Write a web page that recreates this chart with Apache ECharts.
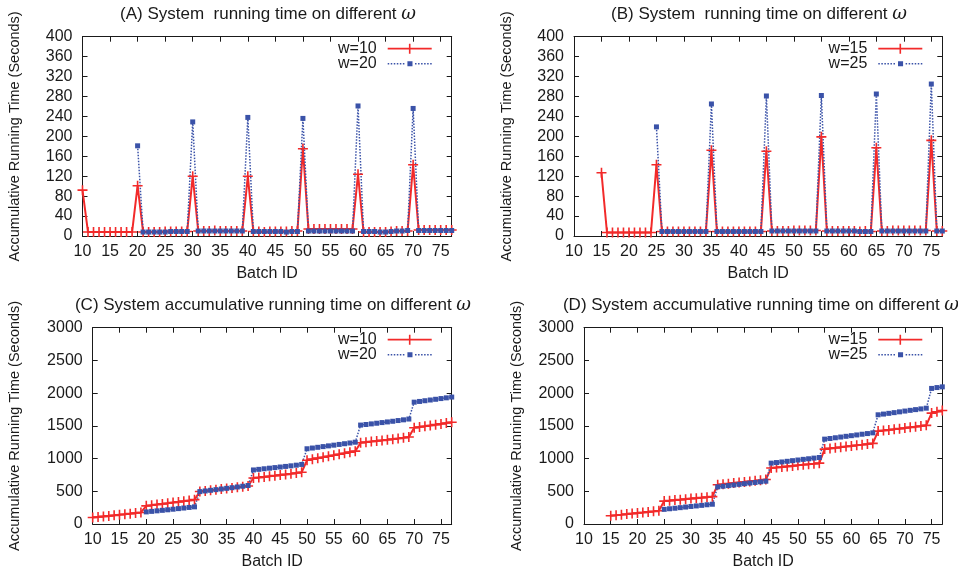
<!DOCTYPE html>
<html>
<head>
<meta charset="utf-8">
<script src="https://cdn.jsdelivr.net/npm/echarts@6/dist/echarts.min.js"></script>
<style>
  html, body { margin: 0; padding: 0; background: #ffffff; }
  #chart { width: 958px; height: 571px; }
</style>
</head>
<body>
<div id="chart"></div>
<script>
// Per-batch running time (seconds), panel A: w=10 starts at batch 10, w=20 at batch 20
const timeW10Start = 10;
const timeW10 = [92, 8, 8, 8, 8, 8, 8, 8, 8, 8,
  101, 8, 8, 8, 8, 9, 9, 9, 9, 9,
  120, 10, 10, 10, 11, 10, 10, 10, 10, 10,
  120, 9, 9, 8, 9, 9, 9, 9, 10, 10,
  175, 14, 14, 14, 14, 14, 14, 14, 14, 14,
  124, 8, 8, 8, 8, 8, 9, 10, 10, 10,
  143, 12, 12, 12, 12, 12, 12, 12];
const timeW20Start = 20;
const timeW20 = [181, 8, 8, 8, 8, 8, 9, 9, 9, 9,
  229, 10, 10, 10, 10, 10, 10, 10, 10, 10,
  238, 9, 9, 9, 9, 9, 9, 8, 9, 9,
  236, 10, 10, 10, 10, 10, 10, 10, 10, 10,
  261, 9, 9, 9, 8, 8, 9, 10, 10, 11,
  256, 11, 11, 11, 11, 11, 11, 11];

// Panel B: w=15 starts at batch 15, w=25 at batch 25
const timeW15Start = 15;
const timeW15 = [127, 7, 7, 7, 7, 7, 7, 7, 7, 7,
  143, 9, 9, 9, 9, 9, 9, 9, 9, 9,
  172, 9, 9, 9, 9, 9, 9, 9, 9, 9,
  170, 10, 10, 10, 10, 11, 11, 11, 11, 11,
  199, 10, 10, 10, 10, 10, 10, 9, 10, 9,
  177, 10, 10, 11, 11, 11, 11, 11, 11, 11,
  192, 10, 10];
const timeW25Start = 25;
const timeW25 = [219, 9, 9, 9, 9, 9, 9, 9, 9, 9,
  265, 9, 9, 9, 9, 9, 9, 9, 9, 9,
  281, 10, 10, 10, 10, 10, 10, 10, 10, 10,
  282, 10, 10, 10, 10, 10, 10, 9, 9, 9,
  285, 10, 10, 10, 10, 10, 10, 10, 10, 10,
  305, 10, 10];

// Accumulative running time (seconds), panel C
const accW10 = [100, 108, 116, 124, 132, 141, 150, 158, 167, 176,
  277, 287, 297, 307, 318, 328, 338, 349, 360, 372,
  496, 505, 514, 523, 533, 542, 551, 561, 570, 580,
  702, 711, 720, 730, 739, 749, 758, 768, 779, 790,
  975, 991, 1006, 1021, 1036, 1051, 1066, 1082, 1098, 1113,
  1242, 1251, 1260, 1269, 1278, 1287, 1297, 1307, 1318, 1330,
  1470, 1482, 1494, 1506, 1518, 1530, 1543, 1555];
const accW20 = [185, 193, 201, 209, 217, 226, 235, 244, 253, 262,
  495, 505, 515, 525, 535, 545, 555, 566, 577, 588,
  826, 835, 844, 853, 862, 871, 880, 889, 899, 910,
  1150, 1161, 1172, 1183, 1194, 1205, 1216, 1227, 1238, 1250,
  1512, 1521, 1530, 1540, 1550, 1560, 1570, 1581, 1592, 1604,
  1862, 1873, 1884, 1895, 1906, 1917, 1928, 1940];

// Panel D
const accW15 = [126, 134, 142, 151, 159, 168, 176, 185, 193, 202,
  350, 357, 365, 372, 380, 388, 395, 403, 410, 418,
  600, 608, 617, 625, 634, 642, 651, 660, 669, 679,
  855, 863, 871, 880, 888, 897, 905, 913, 921, 930,
  1145, 1155, 1164, 1174, 1184, 1193, 1203, 1212, 1222, 1232,
  1420, 1429, 1438, 1448, 1457, 1467, 1477, 1487, 1497, 1508,
  1695, 1715, 1734];
const accW25 = [224, 233, 241, 250, 259, 268, 276, 285, 294, 302,
  568, 577, 587, 596, 606, 616, 626, 635, 645, 654,
  930, 939, 948, 958, 968, 978, 988, 997, 1007, 1016,
  1297, 1307, 1318, 1329, 1340, 1350, 1361, 1372, 1382, 1393,
  1669, 1680, 1691, 1702, 1714, 1726, 1737, 1748, 1759, 1770,
  2072, 2085, 2096];

const panelTitles = [
  '(A) System  running time on different {w|ω}',
  '(B) System  running time on different {w|ω}',
  '(C) System accumulative running time on different {w|ω}',
  '(D) System accumulative running time on different {w|ω}'
];
const seriesNames = [['w=10', 'w=20'], ['w=15', 'w=25'], ['w=10', 'w=20'], ['w=15', 'w=25']];
const xLabelName = 'Batch ID';
const yLabelName = 'Accumulative Running Time (Seconds)';
const batchMin = 10, batchMax = 77, batchStep = 5;

// ---- drawing ----
const FONT = 'Liberation Sans, Arial, Helvetica, sans-serif';
const INK = '#1a1a1a';
const RED = '#f22a2a';
const BLUE = '#3a52a8';
const PLUS = 'path://M4.2,0H5.8V4.2H10V5.8H5.8V10H4.2V5.8H0V4.2H4.2Z';

// legend keys: line sample with its marker in the middle (44 x 10 box)
const KEY_RED = 'path://M0,4.1H44V5.9H0Z M21.2,0H22.8V10H21.2Z';
const KEY_BLUE = (() => {
  let p = 'path://M0,2.5H0.1V2.5Z';
  for (let x = 0; x < 44; x += 3) {
    if (x > 17 && x < 26) continue;
    p += ` M${x},1.75H${x + 1.5}V3.25H${x}Z`;
  }
  p += ' M19.5,0H24.5V5H19.5Z';
  return p;
})();

const toPairs = (start, vals) => vals.map((v, i) => [start + i, v]);

const grids = [
  { left: 82.5, top: 36.7, width: 369.2, height: 199.3 },
  { left: 574, top: 36.7, width: 368.3, height: 199.3 },
  { left: 92.7, top: 327.7, width: 359, height: 199 },
  { left: 584, top: 327.7, width: 358.3, height: 199 }
];
const yScales = [[400, 40], [400, 40], [3000, 500], [3000, 500]];
const titleCenters = [[268, 5], [759, 5], [273, 296], [761, 296]];

const lineStyleAxis = { color: INK, width: 1 };
const xAxes = [], yAxes = [], titles = [], legends = [], series = [];

grids.forEach((g, gi) => {
  const base = {
    gridIndex: gi, type: 'value', min: batchMin, max: batchMax, interval: batchStep,
    splitLine: { show: false },
    axisLine: { show: true, onZero: false, lineStyle: lineStyleAxis },
    axisTick: { show: true, inside: true, length: 5, lineStyle: lineStyleAxis }
  };
  xAxes.push(Object.assign({}, base, {
    position: 'bottom',
    axisLabel: { fontSize: 16, color: INK, fontFamily: FONT, margin: 8, showMaxLabel: false },
    name: xLabelName, nameLocation: 'middle', nameGap: 30,
    nameTextStyle: { fontSize: 16, color: INK, fontFamily: FONT }
  }));
  xAxes.push(Object.assign({}, base, { position: 'top', axisLabel: { show: false } }));

  const [yMax, yInt] = yScales[gi];
  const ybase = {
    gridIndex: gi, type: 'value', min: 0, max: yMax, interval: yInt,
    splitLine: { show: false },
    axisLine: { show: true, onZero: false, lineStyle: lineStyleAxis },
    axisTick: { show: true, inside: true, length: 5, lineStyle: lineStyleAxis }
  };
  yAxes.push(Object.assign({}, ybase, {
    position: 'left',
    axisLabel: { fontSize: 16, color: INK, fontFamily: FONT, margin: 10, formatter: v => String(v) },
    name: yLabelName, nameLocation: 'middle', nameGap: gi === 2 ? 70 : 60,
    nameTextStyle: { fontSize: 14.5, color: INK, fontFamily: FONT }
  }));
  yAxes.push(Object.assign({}, ybase, { position: 'right', axisLabel: { show: false } }));

  titles.push({
    text: panelTitles[gi], left: titleCenters[gi][0], top: titleCenters[gi][1], textAlign: 'center',
    padding: 0,
    textStyle: {
      fontSize: 17, fontWeight: 'normal', color: INK, fontFamily: FONT,
      rich: { w: { fontSize: 18, fontStyle: 'italic', fontFamily: 'DejaVu Serif, serif', color: INK } }
    }
  });

  const [n1, n2] = seriesNames[gi];
  legends.push({
    data: [{ name: n1, icon: KEY_RED }, { name: n2, icon: KEY_BLUE }],
    orient: 'vertical', align: 'right',
    right: 958 - (g.left + g.width) + 20, top: g.top + 4,
    padding: 0, itemGap: -1, itemWidth: 44, itemHeight: 10,
    textStyle: { fontSize: 16, color: INK, fontFamily: FONT, padding: [0, 6, 0, 0] }
  });
});

function addPair(gi, redData, blueData) {
  const [n1, n2] = seriesNames[gi];
  series.push({
    name: n1, type: 'line', xAxisIndex: gi * 2, yAxisIndex: gi * 2, data: redData,
    symbol: PLUS, symbolSize: 10, showAllSymbol: true,
    lineStyle: { color: RED, width: 2 }, itemStyle: { color: RED }, animation: false
  });
  series.push({
    name: n2, type: 'line', xAxisIndex: gi * 2, yAxisIndex: gi * 2, data: blueData,
    symbol: 'rect', symbolSize: 5, showAllSymbol: true,
    lineStyle: { color: BLUE, width: 1.5, type: [1.5, 1.5] }, itemStyle: { color: BLUE }, animation: false
  });
}

addPair(0, toPairs(timeW10Start, timeW10), toPairs(timeW20Start, timeW20));
addPair(1, toPairs(timeW15Start, timeW15), toPairs(timeW25Start, timeW25));
addPair(2, toPairs(timeW10Start, accW10), toPairs(timeW20Start, accW20));
addPair(3, toPairs(timeW15Start, accW15), toPairs(timeW25Start, accW25));

const chart = echarts.init(document.getElementById('chart'), null, { renderer: 'canvas' });
chart.setOption({
  backgroundColor: '#ffffff',
  animation: false,
  title: titles,
  legend: legends,
  grid: grids,
  xAxis: xAxes,
  yAxis: yAxes,
  series: series
});
</script>
</body>
</html>
